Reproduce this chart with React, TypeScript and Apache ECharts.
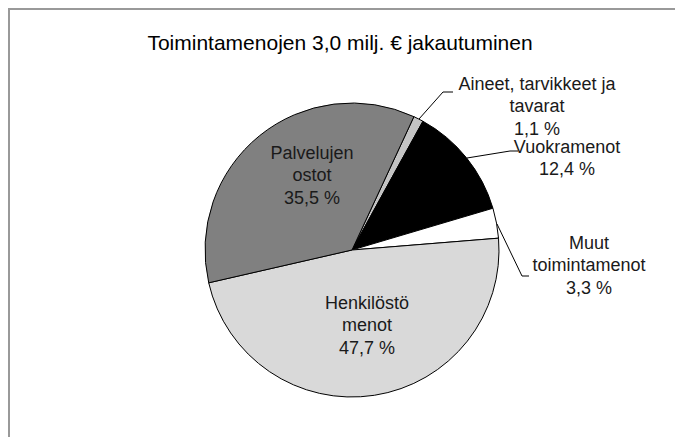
import React, { useEffect, useRef } from "react";
import * as echarts from "echarts";

const categories = [
  "Aineet, tarvikkeet ja\ntavarat",
  "Vuokramenot",
  "Muut\ntoimintamenot",
  "Henkilöstö\nmenot",
  "Palvelujen\nostot",
];
const shares = [1.1, 12.4, 3.3, 47.7, 35.5];
const title = "Toimintamenojen 3,0 milj. € jakautuminen";

const sliceColors = ["#c4c4c4", "#000000", "#ffffff", "#d9d9d9", "#808080"];
// label anchor (x, y) and leader line points (null = inside label)
const labelAnchors: [number, number][] = [
  [529, 98],
  [559, 150],
  [581, 257],
  [359, 317],
  [304, 167],
];
const leaderLines: ([number, number][] | null)[] = [
  [[411, 111], [435, 84], [445, 84]],
  [[459, 150], [502, 143], [510, 143]],
  [[489, 216], [514, 268], [521, 268]],
  null,
  null,
];

const FONT = "'Liberation Sans', Arial, sans-serif";

function fmt(v: number) {
  return v.toFixed(1).replace(".", ",") + " %";
}

export default function App() {
  const ref = useRef<HTMLDivElement>(null);
  useEffect(() => {
    if (!ref.current) return;
    const chart = echarts.init(ref.current, null, { renderer: "svg" });
    chart.setOption({
      animation: false,
      backgroundColor: "#ffffff",
      title: {
        text: title,
        left: 332,
        top: 22,
        textAlign: "center",
        padding: 0,
        textStyle: {
          fontFamily: FONT,
          fontSize: 21,
          fontWeight: "normal",
          color: "#000",
          lineHeight: 24,
        },
      },
      graphic: [
        {
          type: "rect",
          shape: { x: 1, y: 1, width: 2000, height: 2000 },
          style: { fill: "none", stroke: "#999999", lineWidth: 2 },
          silent: true,
          z: 100,
        },
      ],
      series: [
        {
          type: "pie",
          center: [344, 242],
          radius: 147,
          startAngle: 65.1,
          clockwise: true,
          avoidLabelOverlap: false,
          itemStyle: { borderColor: "#000", borderWidth: 1 },
          label: {
            show: true,
            position: "outside",
            fontFamily: FONT,
            fontSize: 18,
            lineHeight: 22.5,
            color: "#1a1a1a",
            align: "center",
            formatter: (p: any) => `${p.name}\n${fmt(p.value)}`,
          },
          labelLine: {
            show: true,
            lineStyle: { color: "#000", width: 1 },
          },
          labelLayout: (params: any) => {
            const i = params.dataIndex;
            const res: any = {
              x: labelAnchors[i][0],
              y: labelAnchors[i][1],
              align: "center",
              verticalAlign: "middle",
            };
            if (leaderLines[i]) res.labelLinePoints = leaderLines[i];
            return res;
          },
          data: categories.map((name, i) => ({
            name,
            value: shares[i],
            itemStyle: { color: sliceColors[i] },
            labelLine: { show: leaderLines[i] !== null },
          })),
        },
      ],
    });
    return () => chart.dispose();
  }, []);
  return <div ref={ref} style={{ width: 675, height: 429 }} />;
}
